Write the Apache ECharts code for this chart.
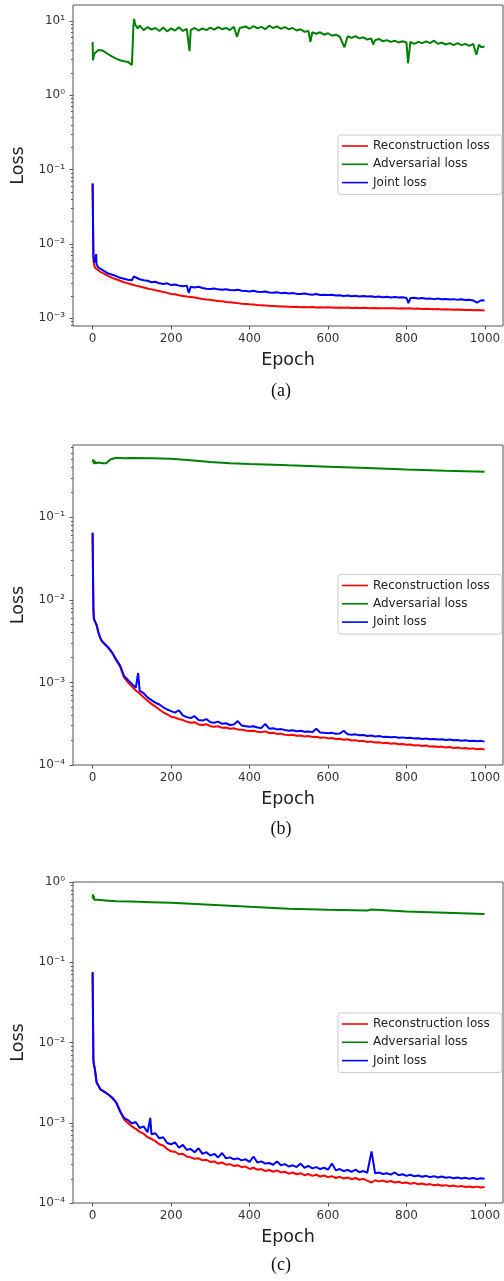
<!DOCTYPE html>
<html><head><meta charset="utf-8">
<script src="https://cdn.jsdelivr.net/npm/echarts@6/dist/echarts.min.js"></script>
<style>html,body{margin:0;padding:0;background:#fff}#c{width:504px;height:1281px}</style>
</head><body><div id="c"></div>
<script>
// ---------------- data ----------------
const seriesNames = ['Reconstruction loss', 'Adversarial loss', 'Joint loss'];
const seriesColors = ['#ff0000', '#008000', '#0000ff'];
const xTickValues = [0, 200, 400, 600, 800, 1000];
const minorMultipliers = [2, 3, 4, 5, 6, 7, 8, 9];
const captions = ['(a)', '(b)', '(c)'];

// (a)
const reconA = [[0,.065],[2,6.0e-3],[5,4.9e-3],[9,4.7e-3],[10,4.6e-3],[15,4.4e-3],[20,4.2e-3],[30,3.95e-3],[40,3.7e-3],[50,3.5e-3],[60,3.35e-3],[70,3.2e-3],[80,3.05e-3],[90,2.95e-3],[100,2.85e-3],[110,2.75e-3],[120,2.68e-3],[130,2.6e-3],[140,2.52e-3],[150,2.45e-3],[160,2.38e-3],[170,2.33e-3],[180,2.25e-3],[190,2.2e-3],[200,2.12e-3],[210,2.1e-3],[220,2.04e-3],[230,2.0e-3],[240,1.96e-3],[250,1.93e-3],[260,1.9e-3],[270,1.86e-3],[280,1.82e-3],[290,1.79e-3],[300,1.77e-3],[310,1.74e-3],[320,1.71e-3],[330,1.69e-3],[340,1.66e-3],[350,1.64e-3],[360,1.62e-3],[370,1.6e-3],[380,1.57e-3],[390,1.56e-3],[400,1.54e-3],[410,1.53e-3],[420,1.51e-3],[430,1.5e-3],[440,1.49e-3],[450,1.47e-3],[460,1.46e-3],[470,1.45e-3],[480,1.44e-3],[490,1.44e-3],[500,1.43e-3],[510,1.42e-3],[520,1.43e-3],[530,1.41e-3],[540,1.42e-3],[550,1.41e-3],[560,1.42e-3],[570,1.4e-3],[580,1.41e-3],[590,1.4e-3],[600,1.41e-3],[610,1.4e-3],[620,1.39e-3],[630,1.4e-3],[640,1.39e-3],[650,1.4e-3],[660,1.38e-3],[670,1.39e-3],[680,1.38e-3],[690,1.39e-3],[700,1.38e-3],[710,1.37e-3],[720,1.38e-3],[730,1.37e-3],[740,1.36e-3],[750,1.37e-3],[760,1.36e-3],[770,1.37e-3],[780,1.35e-3],[790,1.36e-3],[800,1.35e-3],[805,1.4e-3],[810,1.36e-3],[820,1.34e-3],[830,1.35e-3],[840,1.33e-3],[850,1.34e-3],[860,1.33e-3],[870,1.32e-3],[880,1.33e-3],[890,1.31e-3],[900,1.32e-3],[910,1.31e-3],[920,1.3e-3],[930,1.31e-3],[940,1.3e-3],[950,1.29e-3],[960,1.3e-3],[970,1.28e-3],[980,1.29e-3],[990,1.28e-3],[999,1.27e-3]];
const advA = [[0,5.2],[1,2.95],[3,3.4],[6,3.7],[10,3.9],[15,4.05],[20,4.1],[25,4.0],[30,3.85],[40,3.55],[50,3.3],[60,3.1],[70,2.95],[80,2.85],[90,2.8],[95,2.65],[100,2.55],[102,4.5],[104,8.5],[106,10.6],[108,9.0],[110,9.4],[115,7.9],[120,8.6],[130,7.5],[140,8.2],[150,7.6],[160,8.0],[170,7.3],[180,8.1],[190,7.2],[200,7.9],[210,7.4],[220,8.2],[230,7.3],[240,7.8],[247,3.9],[250,7.5],[260,8.0],[270,7.4],[280,7.9],[290,7.5],[300,8.1],[310,7.6],[320,8.2],[330,7.7],[340,8.0],[350,7.5],[360,8.3],[368,6.1],[375,8.0],[380,7.6],[390,8.4],[400,7.8],[410,8.5],[420,7.9],[430,8.3],[440,7.7],[450,8.6],[460,8.0],[470,8.4],[480,7.8],[490,8.2],[500,7.7],[510,8.0],[520,7.4],[530,7.7],[540,7.1],[550,7.3],[555,5.2],[560,7.0],[570,6.7],[580,7.0],[590,6.5],[600,6.8],[610,6.3],[620,6.5],[630,6.1],[642,4.4],[650,6.2],[660,5.9],[670,6.2],[680,5.8],[690,6.0],[700,5.6],[710,5.8],[715,4.8],[720,5.5],[730,5.7],[740,5.3],[750,5.5],[760,5.2],[770,5.4],[780,5.1],[790,5.3],[800,5.1],[804,2.7],[810,5.2],[820,4.9],[830,5.2],[840,5.0],[850,5.3],[860,5.0],[870,5.4],[880,4.9],[890,5.1],[900,4.8],[910,5.0],[920,4.7],[930,5.0],[940,4.7],[950,4.9],[960,4.6],[970,4.9],[978,3.5],[985,4.8],[990,4.4],[999,4.5]];
const jointA = [[0,.065],[2,6.8e-3],[5,5.6e-3],[9,7.3e-3],[10,5.3e-3],[15,4.8e-3],[20,4.6e-3],[30,4.3e-3],[40,4.0e-3],[50,3.85e-3],[60,3.7e-3],[70,3.5e-3],[80,3.4e-3],[90,3.3e-3],[100,3.25e-3],[105,3.65e-3],[110,3.5e-3],[120,3.35e-3],[130,3.25e-3],[140,3.2e-3],[150,3.05e-3],[160,3.1e-3],[170,2.95e-3],[180,2.9e-3],[190,2.95e-3],[200,2.8e-3],[210,2.85e-3],[220,2.75e-3],[230,2.7e-3],[240,2.75e-3],[245,2.2e-3],[250,2.65e-3],[260,2.6e-3],[270,2.65e-3],[280,2.55e-3],[290,2.5e-3],[300,2.48e-3],[310,2.52e-3],[320,2.45e-3],[330,2.42e-3],[340,2.46e-3],[350,2.4e-3],[360,2.38e-3],[370,2.42e-3],[380,2.35e-3],[390,2.33e-3],[400,2.3e-3],[410,2.34e-3],[420,2.27e-3],[430,2.25e-3],[440,2.29e-3],[450,2.22e-3],[460,2.2e-3],[470,2.24e-3],[480,2.18e-3],[490,2.2e-3],[500,2.16e-3],[510,2.19e-3],[520,2.13e-3],[530,2.12e-3],[540,2.15e-3],[550,2.1e-3],[560,2.08e-3],[570,2.12e-3],[580,2.06e-3],[590,2.08e-3],[600,2.05e-3],[610,2.07e-3],[620,2.02e-3],[630,2.04e-3],[640,2.0e-3],[650,2.03e-3],[660,1.98e-3],[670,2.01e-3],[680,1.97e-3],[690,1.99e-3],[700,1.96e-3],[710,1.98e-3],[720,1.94e-3],[730,1.96e-3],[740,1.92e-3],[750,1.95e-3],[760,1.91e-3],[770,1.93e-3],[780,1.9e-3],[790,1.92e-3],[800,1.88e-3],[805,1.6e-3],[810,1.87e-3],[820,1.89e-3],[830,1.85e-3],[840,1.87e-3],[850,1.83e-3],[860,1.85e-3],[870,1.81e-3],[880,1.84e-3],[890,1.8e-3],[900,1.82e-3],[910,1.79e-3],[920,1.81e-3],[930,1.77e-3],[940,1.8e-3],[950,1.76e-3],[960,1.78e-3],[970,1.74e-3],[980,1.62e-3],[990,1.75e-3],[999,1.73e-3]];

// (b)
const reconB = [[0,.065],[1,.02],[2,8e-3],[3,6.0e-3],[5,5.6e-3],[7,5.3e-3],[10,5.0e-3],[15,4.0e-3],[20,3.4e-3],[25,3.1e-3],[30,2.95e-3],[40,2.62e-3],[50,2.27e-3],[60,1.86e-3],[70,1.56e-3],[80,1.15e-3],[90,1.0e-3],[100,8.9e-4],[110,8.0e-4],[116,7.6e-4],[120,7.2e-4],[130,6.6e-4],[140,6.0e-4],[150,5.5e-4],[160,5.1e-4],[170,4.7e-4],[180,4.35e-4],[190,4.1e-4],[200,3.85e-4],[210,3.75e-4],[220,3.6e-4],[230,3.5e-4],[240,3.35e-4],[250,3.25e-4],[260,3.3e-4],[270,3.1e-4],[280,3.05e-4],[290,3.12e-4],[300,2.95e-4],[310,2.9e-4],[320,2.95e-4],[330,2.82e-4],[340,2.85e-4],[350,2.75e-4],[360,2.78e-4],[370,2.7e-4],[380,2.68e-4],[390,2.62e-4],[400,2.58e-4],[410,2.6e-4],[420,2.52e-4],[430,2.5e-4],[440,2.55e-4],[450,2.44e-4],[460,2.46e-4],[470,2.38e-4],[480,2.4e-4],[490,2.33e-4],[500,2.3e-4],[510,2.32e-4],[520,2.26e-4],[530,2.28e-4],[540,2.22e-4],[550,2.24e-4],[560,2.18e-4],[570,2.2e-4],[580,2.14e-4],[590,2.16e-4],[600,2.1e-4],[610,2.12e-4],[620,2.06e-4],[630,2.08e-4],[640,2.02e-4],[650,2.05e-4],[660,1.98e-4],[670,2.0e-4],[680,1.94e-4],[690,1.96e-4],[700,1.9e-4],[710,1.92e-4],[720,1.87e-4],[730,1.89e-4],[740,1.84e-4],[750,1.86e-4],[760,1.81e-4],[770,1.83e-4],[780,1.78e-4],[790,1.8e-4],[800,1.76e-4],[810,1.77e-4],[820,1.72e-4],[830,1.74e-4],[840,1.7e-4],[850,1.72e-4],[860,1.67e-4],[870,1.69e-4],[880,1.65e-4],[890,1.67e-4],[900,1.63e-4],[910,1.65e-4],[920,1.61e-4],[930,1.63e-4],[940,1.59e-4],[950,1.61e-4],[960,1.57e-4],[970,1.59e-4],[980,1.55e-4],[990,1.57e-4],[999,1.54e-4]];
const advB = [[0,0.46],[2,0.5],[4,0.44],[6,0.48],[8,0.45],[10,0.47],[15,0.46],[20,0.47],[25,0.45],[30,0.46],[35,0.45],[40,0.46],[45,0.5],[50,0.52],[60,0.525],[80,0.52],[100,0.522],[150,0.518],[200,0.51],[250,0.49],[300,0.466],[350,0.452],[400,0.442],[500,0.425],[600,0.41],[700,0.395],[800,0.38],[900,0.367],[999,0.356]];
const jointB = [[0,.065],[1,.02],[2,8e-3],[3,6.0e-3],[5,5.6e-3],[7,5.3e-3],[10,5.0e-3],[15,4.0e-3],[20,3.4e-3],[25,3.1e-3],[30,2.95e-3],[40,2.65e-3],[50,2.3e-3],[60,1.9e-3],[70,1.6e-3],[80,1.2e-3],[90,1.07e-3],[100,9.6e-4],[110,8.6e-4],[116,1.3e-3],[120,7.9e-4],[130,7.4e-4],[140,6.6e-4],[150,6.1e-4],[160,5.7e-4],[170,5.4e-4],[180,5.0e-4],[190,4.7e-4],[200,4.5e-4],[210,4.3e-4],[220,4.6e-4],[230,4.0e-4],[240,3.8e-4],[250,3.7e-4],[260,3.9e-4],[270,3.5e-4],[280,3.45e-4],[290,3.6e-4],[300,3.3e-4],[310,3.25e-4],[320,3.35e-4],[330,3.15e-4],[340,3.2e-4],[350,3.05e-4],[360,3.1e-4],[370,3.4e-4],[380,3.0e-4],[390,2.95e-4],[400,2.9e-4],[410,2.95e-4],[420,2.85e-4],[430,2.8e-4],[440,3.15e-4],[450,2.75e-4],[460,2.78e-4],[470,2.7e-4],[480,2.72e-4],[490,2.65e-4],[500,2.6e-4],[510,2.63e-4],[520,2.57e-4],[530,2.6e-4],[540,2.53e-4],[550,2.55e-4],[560,2.5e-4],[570,2.75e-4],[580,2.48e-4],[590,2.45e-4],[600,2.43e-4],[610,2.45e-4],[620,2.39e-4],[630,2.41e-4],[640,2.6e-4],[650,2.35e-4],[660,2.33e-4],[670,2.35e-4],[680,2.29e-4],[690,2.31e-4],[700,2.25e-4],[710,2.27e-4],[720,2.22e-4],[730,2.24e-4],[740,2.19e-4],[750,2.2e-4],[760,2.17e-4],[770,2.19e-4],[780,2.14e-4],[790,2.16e-4],[800,2.12e-4],[810,2.14e-4],[820,2.09e-4],[830,2.11e-4],[840,2.07e-4],[850,2.09e-4],[860,2.05e-4],[870,2.07e-4],[880,2.03e-4],[890,2.05e-4],[900,2.01e-4],[910,2.03e-4],[920,1.99e-4],[930,2.01e-4],[940,1.97e-4],[950,1.99e-4],[960,1.95e-4],[970,1.97e-4],[980,1.94e-4],[990,1.96e-4],[999,1.92e-4]];

// (c)
const reconC = [[0,.075],[1,.02],[2,6.1e-3],[3,5.4e-3],[5,4.9e-3],[7,4.2e-3],[10,3.2e-3],[15,2.9e-3],[20,2.6e-3],[25,2.5e-3],[30,2.42e-3],[40,2.25e-3],[50,2.05e-3],[60,1.78e-3],[70,1.38e-3],[80,1.1e-3],[90,9.9e-4],[100,9.0e-4],[110,8.4e-4],[120,7.7e-4],[130,7.3e-4],[140,6.6e-4],[147,6.4e-4],[150,6.2e-4],[160,5.9e-4],[170,5.4e-4],[180,5.2e-4],[190,4.7e-4],[200,4.4e-4],[210,4.35e-4],[220,4.05e-4],[230,4.1e-4],[240,3.8e-4],[250,3.7e-4],[260,3.55e-4],[270,3.6e-4],[280,3.4e-4],[290,3.45e-4],[300,3.25e-4],[310,3.3e-4],[320,3.1e-4],[330,3.2e-4],[340,3.0e-4],[350,3.05e-4],[360,2.9e-4],[370,2.95e-4],[380,2.8e-4],[390,2.85e-4],[400,2.65e-4],[410,2.75e-4],[420,2.6e-4],[430,2.65e-4],[440,2.5e-4],[450,2.58e-4],[460,2.45e-4],[470,2.55e-4],[480,2.4e-4],[490,2.45e-4],[500,2.32e-4],[510,2.4e-4],[520,2.28e-4],[530,2.35e-4],[540,2.22e-4],[550,2.3e-4],[560,2.18e-4],[570,2.25e-4],[580,2.14e-4],[590,2.2e-4],[600,2.1e-4],[610,2.16e-4],[620,2.05e-4],[630,2.12e-4],[640,2.02e-4],[650,2.08e-4],[660,1.98e-4],[670,2.05e-4],[680,1.95e-4],[690,2.0e-4],[700,1.9e-4],[711,1.8e-4],[720,1.92e-4],[730,1.86e-4],[740,1.9e-4],[750,1.83e-4],[760,1.88e-4],[770,1.8e-4],[780,1.84e-4],[790,1.77e-4],[800,1.8e-4],[810,1.74e-4],[820,1.78e-4],[830,1.71e-4],[840,1.75e-4],[850,1.69e-4],[860,1.72e-4],[870,1.66e-4],[880,1.7e-4],[890,1.64e-4],[900,1.67e-4],[910,1.62e-4],[920,1.65e-4],[930,1.6e-4],[940,1.63e-4],[950,1.58e-4],[960,1.61e-4],[970,1.57e-4],[980,1.6e-4],[990,1.56e-4],[999,1.58e-4]];
const advC = [[0,0.62],[1,0.7],[2,0.63],[3,0.67],[4,0.6],[6,0.61],[10,0.6],[20,0.595],[40,0.585],[60,0.575],[100,0.57],[150,0.56],[200,0.55],[300,0.52],[400,0.49],[500,0.465],[600,0.45],[700,0.44],[710,0.455],[712,0.44],[800,0.43],[900,0.415],[999,0.40]];
const jointC = [[0,.075],[1,.02],[2,6.1e-3],[3,5.4e-3],[5,4.9e-3],[7,4.2e-3],[10,3.2e-3],[15,2.9e-3],[20,2.6e-3],[25,2.5e-3],[30,2.42e-3],[40,2.25e-3],[50,2.05e-3],[60,1.8e-3],[70,1.4e-3],[80,1.15e-3],[90,1.08e-3],[100,9.8e-4],[110,1.02e-3],[120,8.6e-4],[130,9.0e-4],[140,7.6e-4],[147,1.15e-3],[150,7.2e-4],[160,7.4e-4],[170,6.4e-4],[180,6.6e-4],[190,5.6e-4],[200,5.4e-4],[210,5.7e-4],[220,4.9e-4],[230,5.3e-4],[240,4.6e-4],[250,4.7e-4],[260,4.3e-4],[270,4.8e-4],[280,4.1e-4],[290,4.3e-4],[300,3.9e-4],[310,4.1e-4],[320,3.7e-4],[330,4.2e-4],[340,3.6e-4],[350,3.7e-4],[360,3.5e-4],[370,3.6e-4],[380,3.4e-4],[390,3.5e-4],[400,3.25e-4],[410,3.8e-4],[420,3.2e-4],[430,3.3e-4],[440,3.1e-4],[450,3.15e-4],[460,3.0e-4],[470,3.3e-4],[480,2.95e-4],[490,3.05e-4],[500,2.85e-4],[510,2.95e-4],[520,2.8e-4],[530,3.1e-4],[540,2.75e-4],[550,2.9e-4],[560,2.7e-4],[570,2.8e-4],[580,2.65e-4],[590,2.75e-4],[600,2.6e-4],[610,3.1e-4],[620,2.55e-4],[630,2.65e-4],[640,2.5e-4],[650,2.58e-4],[660,2.45e-4],[670,2.6e-4],[680,2.42e-4],[690,2.5e-4],[700,2.38e-4],[711,4.4e-4],[720,2.35e-4],[730,2.4e-4],[740,2.3e-4],[750,2.35e-4],[760,2.26e-4],[770,2.4e-4],[780,2.22e-4],[790,2.28e-4],[800,2.18e-4],[810,2.25e-4],[820,2.15e-4],[830,2.2e-4],[840,2.12e-4],[850,2.18e-4],[860,2.1e-4],[870,2.16e-4],[880,2.08e-4],[890,2.14e-4],[900,2.06e-4],[910,2.1e-4],[920,2.03e-4],[930,2.08e-4],[940,2.02e-4],[950,2.06e-4],[960,2.0e-4],[970,2.05e-4],[980,1.99e-4],[990,2.03e-4],[999,2.0e-4]];

// ---------------- layout ----------------
const panels = [
  { top: 5,   height: 321, ymin: 7.88e-4, ymax: 16.3, data: [reconA, advA, jointA], legendTop: 135,  capY: 391.5 },
  { top: 445, height: 320, ymin: 1e-4,    ymax: 0.75, data: [reconB, advB, jointB], legendTop: 574.5, capY: 829.5 },
  { top: 882, height: 321, ymin: 1e-4,    ymax: 1.0,  data: [reconC, advC, jointC], legendTop: 1013, capY: 1265 }
];
const GRID_LEFT = 73, GRID_WIDTH = 430;
const FONT = 'DejaVu Sans';
const SUP = {'0':'⁰','1':'¹','2':'²','3':'³','4':'⁴','5':'⁵','6':'⁶','7':'⁷','8':'⁸','9':'⁹','-':'⁻'};
function logLabel(v) {
  const l = Math.log10(v), e = Math.round(l);
  if (Math.abs(l - e) > 1e-6) return '';
  return '10' + String(e).split('').map(c => SUP[c]).join('');
}
function decadeTicks(ymin, ymax) {
  const major = [], minor = [];
  const lo = Math.floor(Math.log10(ymin)), hi = Math.ceil(Math.log10(ymax));
  for (let k = lo; k <= hi; k++) {
    const d = Math.pow(10, k);
    if (d >= ymin * 0.9999 && d <= ymax * 1.0001) major.push(k);
    minorMultipliers.forEach(m => { const v = m * d; if (v > ymin && v < ymax) minor.push(Math.log10(v)); });
  }
  return { major, minor };
}

const grid = [], xAxis = [], yAxis = [], series = [], legend = [], graphic = [];
panels.forEach((p, i) => {
  grid.push({ left: GRID_LEFT, top: p.top, width: GRID_WIDTH, height: p.height, show: true,
    borderColor: '#555', borderWidth: 1, backgroundColor: 'transparent', containLabel: false, outerBoundsMode: 'none' });
  xAxis.push({ gridIndex: i, type: 'value', min: -50, max: 1046, position: 'bottom',
    axisLine: { show: false, onZero: false }, splitLine: { show: false },
    axisTick: { show: true, customValues: xTickValues, length: 3.5, lineStyle: { color: '#555' } },
    axisLabel: { customValues: xTickValues, formatter: v => String(v), fontFamily: FONT, fontSize: 12, color: '#333', margin: 7 },
    name: 'Epoch', nameLocation: 'middle', nameGap: 25,
    nameTextStyle: { fontFamily: FONT, fontSize: 17.5, color: '#222' } });
  const t = decadeTicks(p.ymin, p.ymax);
  const lmin = Math.log10(p.ymin), lmax = Math.log10(p.ymax);
  yAxis.push({ gridIndex: i, type: 'log', logBase: 10, min: p.ymin, max: p.ymax, position: 'left',
    axisLine: { show: false, onZero: false }, axisTick: { show: false }, splitLine: { show: false }, minorTick: { show: false },
    axisLabel: { formatter: logLabel, fontFamily: FONT, fontSize: 12, color: '#333', margin: 8 },
    name: 'Loss', nameLocation: 'middle', nameGap: 39, nameRotate: 90,
    nameTextStyle: { fontFamily: FONT, fontSize: 17.5, color: '#222' } });
  yAxis.push({ gridIndex: i, type: 'value', min: lmin, max: lmax, position: 'left',
    axisLine: { show: false, onZero: false }, splitLine: { show: false }, axisLabel: { show: false },
    axisTick: { show: true, customValues: t.major, length: 3.5, lineStyle: { color: '#555' } } });
  yAxis.push({ gridIndex: i, type: 'value', min: lmin, max: lmax, position: 'left',
    axisLine: { show: false, onZero: false }, splitLine: { show: false }, axisLabel: { show: false },
    axisTick: { show: true, customValues: t.minor, length: 2, lineStyle: { color: '#555' } } });
  seriesNames.forEach((name, s) => {
    series.push({ name, type: 'line', xAxisIndex: i, yAxisIndex: i * 3, data: p.data[s],
      symbol: 'none', showSymbol: false, clip: true, z: 2 + s,
      lineStyle: { color: seriesColors[s], width: 2 }, itemStyle: { color: seriesColors[s] } });
  });
  legend.push({ data: seriesNames, orient: 'vertical', left: 338, top: p.legendTop,
    icon: 'rect', itemWidth: 26, itemHeight: 1.6, itemGap: 4.3, padding: [4, 12, 5, 4],
    backgroundColor: '#fff', borderColor: '#ccc', borderWidth: 1, borderRadius: 3, selectedMode: false,
    textStyle: { fontFamily: FONT, fontSize: 12, color: '#222', lineHeight: 14 } });
  graphic.push({ type: 'text', x: 281, y: p.capY,
    style: { text: captions[i], fontFamily: 'Liberation Serif', fontSize: 18, fill: '#111', align: 'center', verticalAlign: 'middle' } });
});

const chart = echarts.init(document.getElementById('c'), null, { renderer: 'canvas' });
chart.setOption({ animation: false, backgroundColor: '#fff', grid, xAxis, yAxis, series, legend, graphic });
</script></body></html>
